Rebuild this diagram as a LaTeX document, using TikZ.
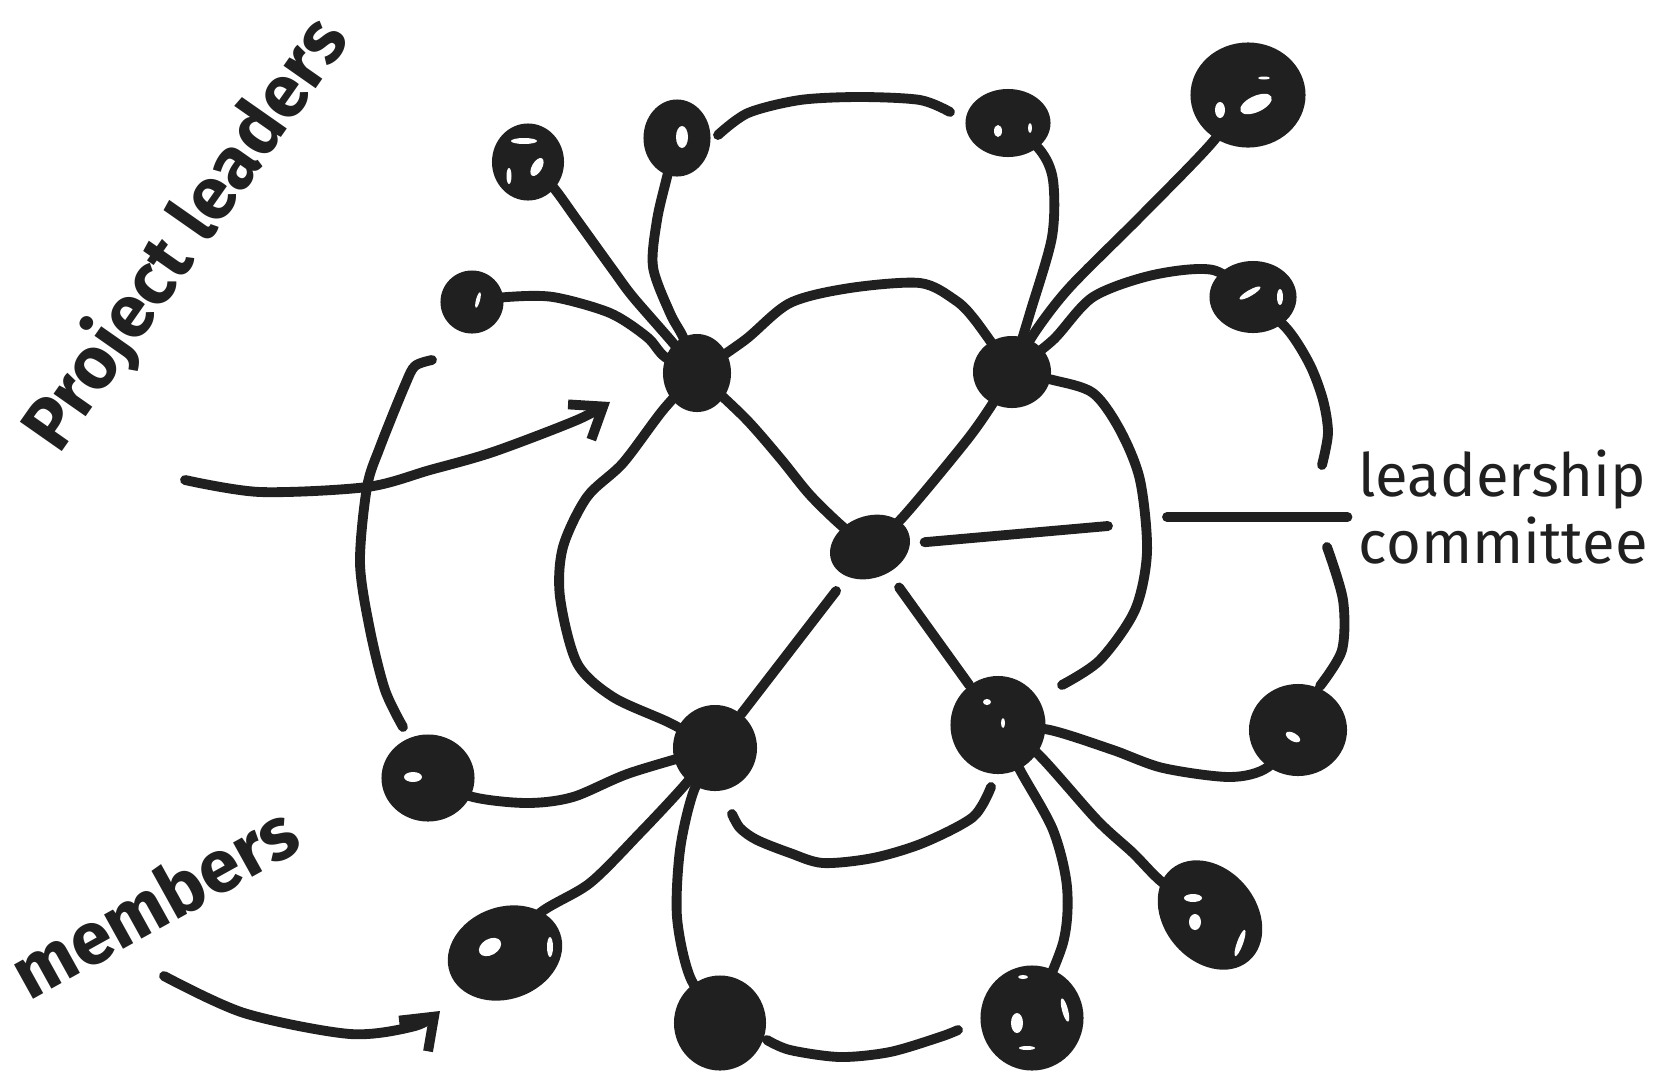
\documentclass[tikz,border=0pt]{standalone}
\usepackage{fontspec}
\setmainfont{Fira Sans}
\usetikzlibrary{shapes.geometric,arrows.meta}

\definecolor{ink}{RGB}{32,32,32}

\pgfdeclarelayer{back}
\pgfsetlayers{back,main}

\tikzset{
  blob/.style={ellipse, fill=ink, inner sep=0pt},
  link/.style={draw=ink, line width=2.8pt, line cap=round, line join=round},
  spot/.style={fill=white},
  tag/.style={text=ink, inner sep=0pt, font=\bfseries\fontsize{21}{25}\selectfont},
  barb/.style={-{Straight Barb[length=8pt,width=12pt]}},
}

\begin{document}
\begin{tikzpicture}[x=0.01cm, y=-0.01cm]
\useasboundingbox (0,0) rectangle (1663,1072);

        % hubs
        \begin{scope}[every node/.style={blob}]
          \node[minimum width=0.82cm, minimum height=0.62cm, rotate=20] (1) at (870,547) {};
          \node[minimum width=0.68cm, minimum height=0.78cm] (2) at (697,373) {};
          \node[minimum width=0.78cm, minimum height=0.72cm] (3) at (1012,372) {};
          \node[minimum width=0.84cm, minimum height=0.86cm] (4) at (715,748) {};
          \node[minimum width=0.95cm, minimum height=0.98cm] (5) at (998,725) {};
        \end{scope}

        % leaves
        \begin{scope}[every node/.style={blob}]
          \node[minimum width=0.72cm, minimum height=0.77cm] (6)  at (528,162)  {};
          \node[minimum width=0.67cm, minimum height=0.77cm] (7)  at (677,138)  {};
          \node[minimum width=0.63cm, minimum height=0.63cm] (8)  at (472,302)  {};
          \node[minimum width=0.85cm, minimum height=0.68cm] (9)  at (1008,123) {};
          \node[minimum width=1.15cm, minimum height=1.05cm] (10) at (1248,95)  {};
          \node[minimum width=0.87cm, minimum height=0.72cm] (11) at (1253,297) {};
          \node[minimum width=0.93cm, minimum height=0.87cm] (12) at (428,778)  {};
          \node[minimum width=1.17cm, minimum height=0.92cm, rotate=20] (13) at (505,953) {};
          \node[minimum width=0.92cm, minimum height=0.95cm] (14) at (720,1023) {};
          \node[minimum width=0.98cm, minimum height=0.92cm] (15) at (1298,730) {};
          \node[minimum width=1.20cm, minimum height=0.92cm, rotate=-50] (16) at (1210,915) {};
          \node[minimum width=1.03cm, minimum height=1.05cm] (17) at (1032,1018) {};
        \end{scope}

        % labels
        \node[tag, rotate=55] (18) at (187,235) {Project leaders};
        \node[tag, rotate=29] (19) at (154,901) {members};
        \node[text=ink, anchor=west, align=left, inner sep=0pt,
              font=\fontsize{17}{19}\selectfont] (20) at (1358,507) {leadership\\committee};

        % loose ends
        \coordinate (a) at (718,135);
        \coordinate (b) at (950,112);
        \coordinate (c) at (1062,685);
        \coordinate (d) at (732,814);
        \coordinate (e) at (991,787);
        \coordinate (f) at (767,1040);
        \coordinate (g) at (958,1030);
        \coordinate (h) at (432,360);
        \coordinate (i) at (403,727);
        \coordinate (j) at (1322,465);
        \coordinate (k) at (1327,547);
        \coordinate (l) at (1320,686);
        \coordinate (m) at (185,480);
        \coordinate (n) at (610,402);
        \coordinate (o) at (164,976);
        \coordinate (p) at (440,1011);
        \coordinate (q) at (1108,526);
        \coordinate (r) at (1167,517);

        \begin{pgfonlayer}{back}
          % spokes
          \draw[link] plot[smooth] coordinates {(6) (553,187) (577,220) (613,270) (633,297) (673,343) (2)};
          \draw[link] plot[smooth] coordinates {(7) (667,177) (657,220) (653,267) (670,313) (683,337) (2)};
          \draw[link] plot[smooth] coordinates {(8) (507,297) (553,297) (610,313) (647,337) (665,357) (2)};
          \draw[link] plot[smooth] coordinates {(9) (1040,150) (1053,180) (1052,237) (1030,313) (3)};
          \draw[link] plot[smooth] coordinates {(10) (1210,145) (1140,217) (1070,287) (1035,332) (3)};
          \draw[link] plot[smooth] coordinates {(11) (1213,270) (1153,275) (1093,297) (1053,340) (3)};
          \draw[link] plot[smooth] coordinates {(12) (473,797) (527,803) (573,797) (630,773) (4)};
          \draw[link] plot[smooth] coordinates {(13) (540,913) (590,883) (640,833) (683,787) (4)};
          \draw[link] plot[smooth] coordinates {(14) (690,977) (677,917) (680,850) (693,793) (4)};
          \draw[link] plot[smooth] coordinates {(5) (1050,730) (1113,750) (1163,768) (1230,777) (1268,767) (15)};
          \draw[link] plot[smooth] coordinates {(5) (1037,753) (1097,820) (1133,853) (1163,883) (16)};
          \draw[link] plot[smooth] coordinates {(5) (1020,770) (1053,830) (1067,887) (1063,943) (17)};

          % from the core
          \draw[link] plot[smooth] coordinates {(1) (843,527) (810,495) (780,458) (745,418) (2)};
          \draw[link] plot[smooth] coordinates {(1) (903,517) (967,440) (995,400) (3)};
          \draw[link, shorten <=5pt] (1) -- (4);
          \draw[link, shorten <=5pt] (1) -- (5);
          \draw[link, shorten <=4pt] (1) -- (q);
          \draw[link, shorten >=3pt] (r) -- (r -| 20.west);

          % arcs between hubs
          \draw[link] plot[smooth] coordinates {(2) (745,340) (790,303) (850,288) (920,283) (955,300) (975,320) (3)};
          \draw[link] plot[smooth] coordinates {(3) (1053,380) (1093,393) (1120,430) (1140,480) (1147,552) (1135,610) (1100,660) (c)};
          \draw[link] plot[smooth] coordinates {(2) (663,410) (623,463) (587,497) (563,547) (560,597) (577,663) (613,697) (670,723) (4)};
          \draw[link] plot[smooth] coordinates {(d) (740,828) (757,840) (790,853) (823,863) (873,858) (923,843) (973,817) (e)};

          % outer arcs
          \draw[link] plot[smooth] coordinates {(a) (748,113) (800,100) (860,97) (920,100) (b)};
          \draw[link] plot[smooth] coordinates {(f) (790,1050) (840,1057) (890,1052) (940,1037) (g)};
          \draw[link] plot[smooth] coordinates {(h) (415,366) (405,385) (380,447) (367,487) (360,563) (370,630) (385,690) (i)};
          \draw[link] plot[smooth] coordinates {(11) (1288,330) (1310,365) (1323,400) (1328,433) (j)};
          \draw[link] plot[smooth] coordinates {(k) (1343,600) (1342,650) (l)};

          % arrows from the labels
          \draw[link, barb] plot[smooth] coordinates {(m) (260,492) (367,487) (430,470) (493,452) (577,420) (n)};
          \draw[link, barb] plot[smooth] coordinates {(o) (244,1013) (350,1034) (415,1026) (p)};
        \end{pgfonlayer}

        % highlights
        \fill[spot] (524,141) ellipse [x radius=13, y radius=3];
        \fill[spot, rotate around={-30:(537,167)}] (537,167) ellipse [x radius=5, y radius=10];
        \fill[spot] (509,176) ellipse [x radius=2.5, y radius=8];
        \fill[spot] (682,137) ellipse [x radius=6, y radius=11];
        \fill[spot, rotate around={-15:(478,300)}] (478,300) ellipse [x radius=2, y radius=8];
        \fill[spot] (998,131) ellipse [x radius=4, y radius=6];
        \fill[spot] (1030,128) ellipse [x radius=2, y radius=5];
        \fill[spot, rotate around={25:(1256,104)}] (1256,104) ellipse [x radius=17, y radius=8];
        \fill[spot] (1220,110) ellipse [x radius=5, y radius=8];
        \fill[spot] (1264,78) ellipse [x radius=6, y radius=1.5];
        \fill[spot, rotate around={30:(1250,293)}] (1250,293) ellipse [x radius=12, y radius=3];
        \fill[spot] (1280,297) ellipse [x radius=3, y radius=8];
        \fill[spot] (413,777) ellipse [x radius=9, y radius=5];
        \fill[spot, rotate around={30:(490,947)}] (490,947) ellipse [x radius=12, y radius=8];
        \fill[spot] (550,947) ellipse [x radius=3, y radius=10];
        \fill[spot, rotate around={-30:(1293,737)}] (1293,737) ellipse [x radius=8, y radius=4];
        \fill[spot] (1193,898) ellipse [x radius=9, y radius=4];
        \fill[spot] (1195,922) ellipse [x radius=6, y radius=8];
        \fill[spot, rotate around={-20:(1240,943)}] (1240,943) ellipse [x radius=3, y radius=14];
        \fill[spot] (1017,1023) ellipse [x radius=6, y radius=10];
        \fill[spot] (1023,977) ellipse [x radius=5, y radius=2];
        \fill[spot] (1027,1048) ellipse [x radius=8, y radius=2];
        \fill[spot, rotate around={15:(1065,1010)}] (1065,1010) ellipse [x radius=3, y radius=12];
        \fill[spot] (987,702) ellipse [x radius=4, y radius=3];
        \fill[spot] (1003,723) ellipse [x radius=2, y radius=5];

      \end{tikzpicture}
\end{document}
